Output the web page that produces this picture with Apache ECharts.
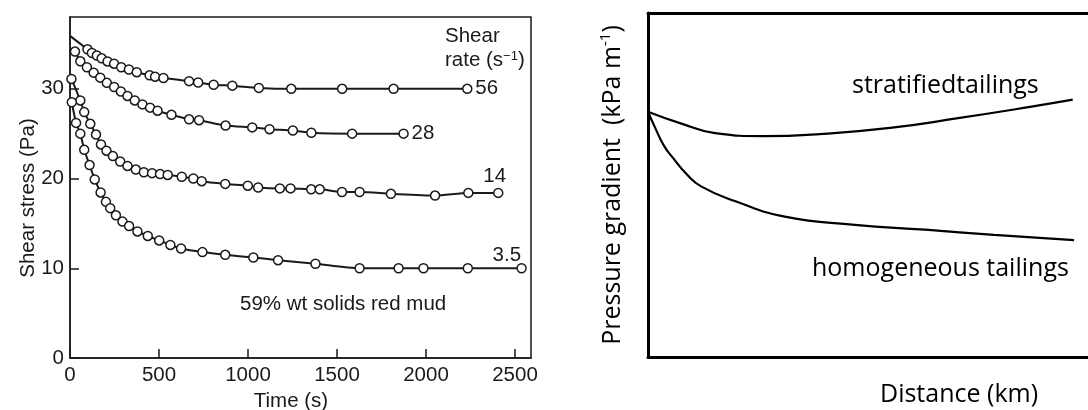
<!DOCTYPE html>
<html>
<head>
<meta charset="utf-8">
<script src="https://cdn.jsdelivr.net/npm/echarts@6/dist/echarts.min.js"></script>
<style>
html,body{margin:0;padding:0;background:#fff;}
#c{width:1088px;height:410px;}
</style>
</head>
<body>
<div id="c"></div>
<script>
// ---- Left panel: shear stress vs time (59% wt solids red mud) ----
const xTicksLeft = [0, 500, 1000, 1500, 2000, 2500];
const yTicksLeft = [0, 10, 20, 30];

const time56 = [0, 98, 123, 151, 178, 211, 248, 288, 331, 375, 447, 478, 525, 669, 720, 807, 912, 1061, 1243, 1529, 1818, 2232];
const stress56 = [35.9, 34.4, 34.0, 33.7, 33.4, 33.05, 32.8, 32.4, 32.15, 31.85, 31.5, 31.35, 31.2, 30.85, 30.7, 30.45, 30.35, 30.1, 30.0, 30.0, 30.0, 30.0];

const time28 = [28, 58, 95, 133, 170, 207, 248, 286, 323, 364, 407, 450, 492, 570, 669, 725, 874, 1024, 1121, 1252, 1356, 1585, 1874];
const stress28 = [34.15, 33.06, 32.4, 31.8, 31.24, 30.66, 30.2, 29.7, 29.2, 28.7, 28.26, 27.9, 27.56, 27.1, 26.6, 26.5, 25.9, 25.7, 25.5, 25.35, 25.1, 25.0, 25.0];

const time14 = [8, 58, 80, 114, 146, 174, 205, 241, 282, 323, 370, 415, 461, 506, 549, 628, 693, 740, 872, 999, 1057, 1179, 1239, 1355, 1403, 1528, 1627, 1803, 2051, 2238, 2406];
const stress14 = [31.1, 28.7, 27.4, 26.1, 24.9, 23.8, 23.1, 22.5, 21.9, 21.4, 21.0, 20.7, 20.6, 20.5, 20.4, 20.2, 20.0, 19.7, 19.4, 19.2, 19.0, 18.9, 18.9, 18.8, 18.8, 18.5, 18.5, 18.3, 18.1, 18.4, 18.4];

const time35 = [10, 34, 58, 80, 110, 139, 172, 202, 226, 258, 295, 332, 379, 437, 501, 564, 624, 744, 872, 1030, 1169, 1379, 1627, 1846, 1986, 2235, 2537];
const stress35 = [28.5, 26.2, 25.0, 23.2, 21.5, 19.9, 18.45, 17.4, 16.7, 15.9, 15.2, 14.7, 14.1, 13.6, 13.1, 12.6, 12.2, 11.8, 11.5, 11.2, 10.9, 10.5, 10.0, 10.0, 10.0, 10.0, 10.0];

const shearRates = ['56', '28', '14', '3.5'];

// ---- Right panel: pressure gradient vs distance (schematic, no scale) ----
const distStrat = [0, 0.71, 1.49, 2.58, 3.82, 5.38, 6.93, 8.49, 9.44];
const gradStrat = [7.13, 6.8, 6.51, 6.42, 6.48, 6.66, 6.95, 7.27, 7.48];
const distHomo = [0, 0.16, 0.36, 0.56, 0.84, 1.18, 1.96, 3.04, 4.6, 6.16, 7.69, 9.47];
const gradHomo = [7.13, 6.66, 6.13, 5.78, 5.34, 4.96, 4.52, 4.08, 3.84, 3.7, 3.55, 3.4];

const LF = 'Liberation Sans, Arial, Helvetica, sans-serif';
const RF = 'Open Sans, Noto Sans, sans-serif';
const INK = '#1a1a1a';
const LFS = 20.5;
const RFS = 25;

function pairs(xs, ys) { return xs.map((x, i) => [x, ys[i]]); }

function stressSeries(xs, ys, name, labelCfg, skipFirstSymbol) {
  return {
    type: 'line', name: name, xAxisIndex: 0, yAxisIndex: 0,
    data: pairs(xs, ys),
    smooth: 0.25,
    symbol: skipFirstSymbol ? function (v, p) { return p.dataIndex === 0 ? 'none' : 'circle'; } : 'circle',
    symbolSize: 9,
    showAllSymbol: true,
    lineStyle: { color: INK, width: 2 },
    itemStyle: { color: '#fff', borderColor: INK, borderWidth: 1.5 },
    endLabel: Object.assign({ show: true, formatter: name, color: INK, fontFamily: LF, fontSize: LFS }, labelCfg),
    animation: false, z: 3
  };
}

const chart = echarts.init(document.getElementById('c'), null, { renderer: 'canvas' });
chart.setOption({
  animation: false,
  backgroundColor: '#fff',
  grid: [
    { left: 70, top: 17, width: 461, height: 341, show: true, borderColor: INK, borderWidth: 1.5, backgroundColor: 'transparent' },
    { left: 648, top: 13, right: 0, height: 344 }
  ],
  xAxis: [
    {
      type: 'value', gridIndex: 0, min: 0, max: 2590, interval: 500,
      axisLine: { lineStyle: { color: INK, width: 1.5 } },
      axisTick: { inside: true, length: 9, lineStyle: { color: INK, width: 1.5 } },
      axisLabel: { fontFamily: LF, fontSize: LFS, color: INK, margin: 7, showMaxLabel: false,
        formatter: function (v) { return xTicksLeft.indexOf(v) >= 0 ? String(v) : ''; } },
      splitLine: { show: false }
    },
    {
      type: 'value', gridIndex: 1, min: 0, max: 9.78, position: 'bottom',
      axisLine: { show: true, onZero: false, lineStyle: { color: '#000', width: 3 } },
      axisTick: { show: false }, axisLabel: { show: false }, splitLine: { show: false }
    },
    {
      type: 'value', gridIndex: 1, min: 0, max: 9.78, position: 'top',
      axisLine: { show: true, onZero: false, lineStyle: { color: '#000', width: 3 } },
      axisTick: { show: false }, axisLabel: { show: false }, splitLine: { show: false }
    }
  ],
  yAxis: [
    {
      type: 'value', gridIndex: 0, min: 0, max: 38, interval: 10,
      axisLine: { lineStyle: { color: INK, width: 1.5 } },
      axisTick: { inside: true, length: 9, lineStyle: { color: INK, width: 1.5 } },
      axisLabel: { fontFamily: LF, fontSize: LFS, color: INK, margin: 6, showMaxLabel: false,
        formatter: function (v) { return yTicksLeft.indexOf(v) >= 0 ? String(v) : ''; } },
      splitLine: { show: false }
    },
    {
      type: 'value', gridIndex: 1, min: 0, max: 10,
      name: 'Pressure gradient  (kPa m{sup|-1})', nameLocation: 'middle', nameGap: 20,
      nameTextStyle: { fontFamily: RF, fontSize: RFS, color: '#000',
        rich: { sup: { fontFamily: RF, fontSize: 15, color: '#000', verticalAlign: 'top', lineHeight: 30 } } },
      axisLine: { show: true, onZero: false, lineStyle: { color: '#000', width: 3 } },
      axisTick: { show: false }, axisLabel: { show: false }, splitLine: { show: false }
    }
  ],
  graphic: [
    { type: 'text', x: 28, y: 198, rotation: Math.PI / 2,
      style: { text: 'Shear stress (Pa)', font: LFS + 'px ' + LF, fill: INK, align: 'center', verticalAlign: 'middle' } },
    { type: 'text', x: 291, y: 401,
      style: { text: 'Time (s)', font: LFS + 'px ' + LF, fill: INK, align: 'center', verticalAlign: 'middle' } },
    { type: 'text', left: 445, top: 26, style: { text: 'Shear', font: LFS + 'px ' + LF, fill: INK } },
    { type: 'text', left: 445, top: 50, style: {
        text: 'rate (s{sup|−1})', font: LFS + 'px ' + LF, fill: INK,
        rich: { sup: { fontSize: 13, fontFamily: LF, fill: INK, verticalAlign: 'top', lineHeight: 13 } } } },
    { type: 'text', left: 240, top: 294, style: { text: '59% wt solids red mud', font: LFS + 'px ' + LF, fill: INK } },
    { type: 'text', left: 852, top: 73, style: { text: 'stratifiedtailings', font: RFS + 'px ' + RF, fill: '#000' } },
    { type: 'text', left: 812, top: 256, style: { text: 'homogeneous tailings', font: RFS + 'px ' + RF, fill: '#000' } },
    { type: 'text', left: 880, top: 382, style: { text: 'Distance (km)', font: RFS + 'px ' + RF, fill: '#000' } }
  ],
  series: [
    stressSeries(time56, stress56, shearRates[0], { offset: [0, 0] }, true),
    stressSeries(time28, stress28, shearRates[1], { offset: [0, 0] }, false),
    stressSeries(time14, stress14, shearRates[2], { offset: [-23, -17] }, false),
    stressSeries(time35, stress35, shearRates[3], { offset: [-37, -13] }, false),
    {
      type: 'line', xAxisIndex: 1, yAxisIndex: 1, data: pairs(distStrat, gradStrat),
      smooth: 0.5, symbol: 'none', lineStyle: { color: '#000', width: 2.2 }
    },
    {
      type: 'line', xAxisIndex: 1, yAxisIndex: 1, data: pairs(distHomo, gradHomo),
      smooth: 0.5, symbol: 'none', lineStyle: { color: '#000', width: 2.2 }
    }
  ]
});
</script>
</body>
</html>
